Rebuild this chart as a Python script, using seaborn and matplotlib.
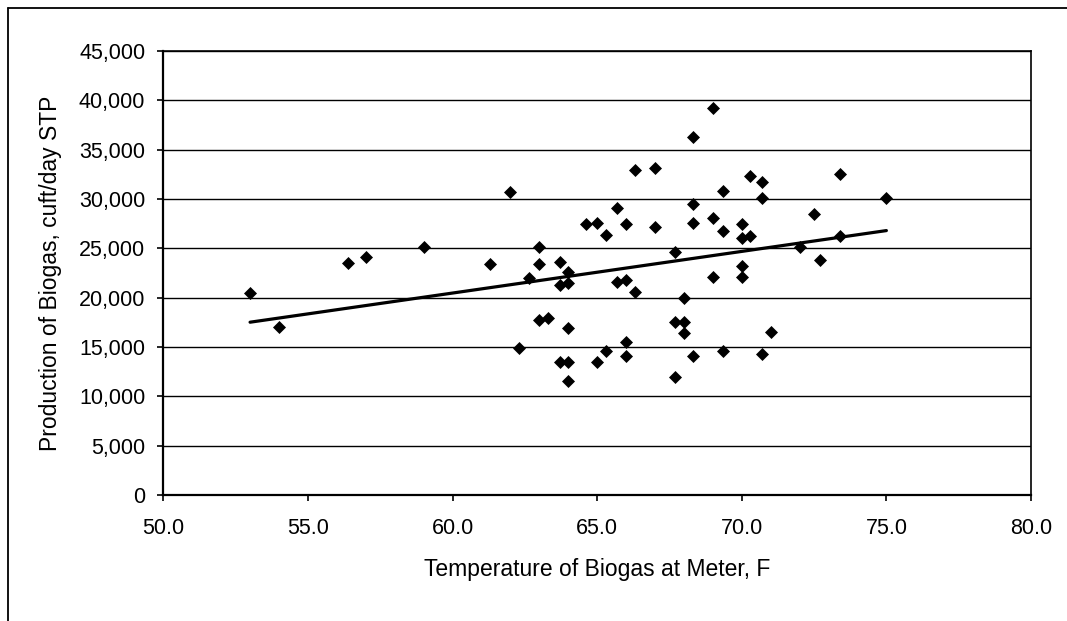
import numpy as np
import pandas as pd
import matplotlib
matplotlib.use("Agg")
import matplotlib.pyplot as plt
from matplotlib.ticker import FuncFormatter
from matplotlib.lines import Line2D
import seaborn as sns

# Data
temperature_f = [
    53.0, 54.0, 56.4, 57.0, 59.0,
    61.3, 62.0, 62.3, 62.65, 63.0, 63.0, 63.0, 63.3, 63.7, 63.7, 63.7,
    64.0, 64.0, 64.0, 64.0, 64.0, 64.6, 65.0, 65.0, 65.3, 65.3, 65.7, 65.7,
    66.0, 66.0, 66.0, 66.0, 66.3, 66.3, 67.0, 67.0,
    67.7, 67.7, 67.7, 68.0, 68.0, 68.0,
    68.3, 68.3, 68.3, 68.3, 69.0, 69.0, 69.0, 69.35, 69.35, 69.35,
    70.0, 70.0, 70.0, 70.0, 70.3, 70.3, 70.7, 70.7, 70.7, 71.0,
    72.0, 72.5, 72.7, 73.4, 73.4, 75.0,
]
biogas_cuft_day = [
    20500, 17050, 23550, 24150, 25150,
    23380, 30680, 14870, 21960, 25170, 23380, 17740, 17900, 23580, 21290, 13450,
    22570, 21520, 16900, 13450, 11590, 27470, 27600, 13450, 26350, 14630, 29060, 21560,
    27470, 21790, 15540, 14090, 32940, 20550, 33110, 27200,
    24600, 17570, 12000, 17570, 16390, 19940,
    36310, 29460, 27600, 14090, 39190, 28040, 22130, 30840, 26790, 14630,
    27470, 26020, 23210, 22130, 32330, 26200, 31690, 30070, 14260, 16490,
    25170, 28480, 23820, 32500, 26250, 30070,
]

x_ticks = [50.0, 55.0, 60.0, 65.0, 70.0, 75.0, 80.0]
y_ticks = list(range(0, 45001, 5000))

x_title = "Temperature of Biogas at Meter, F"
y_title = "Production of Biogas, cuft/day STP"

df = pd.DataFrame({"temp": temperature_f, "gas": biogas_cuft_day})

sns.set_style("white")
plt.rcParams["font.family"] = ["Liberation Sans", "DejaVu Sans"]

W, H = 1067, 621
fig = plt.figure(figsize=(W / 100, H / 100), dpi=100)
ax = fig.add_axes([163.3 / W, 1 - 495 / H, (1031 - 163.3) / W, (495 - 51) / H])

ax.yaxis.grid(True, color="black", linewidth=1.0, zorder=0)
ax.set_axisbelow(True)

sns.regplot(
    data=df, x="temp", y="gas", ax=ax, ci=None, truncate=True,
    marker="D",
    scatter_kws={"s": 44, "color": "black", "linewidths": 0, "zorder": 3, "alpha": 1},
    line_kws={"color": "black", "linewidth": 2.3, "zorder": 4},
)

ax.set_xlim(50, 80)
ax.set_ylim(0, 45000)
ax.set_xticks(x_ticks)
ax.set_yticks(y_ticks)
ax.xaxis.set_major_formatter(FuncFormatter(lambda v, p: f"{v:.1f}"))
ax.yaxis.set_major_formatter(FuncFormatter(lambda v, p: f"{int(v):,}"))

for side in ["left", "bottom", "top", "right"]:
    ax.spines[side].set_visible(True)
    ax.spines[side].set_color("black")
    ax.spines[side].set_linewidth(1.2)
ax.spines["left"].set_linewidth(1.6)
ax.spines["bottom"].set_linewidth(1.6)

ax.tick_params(axis="both", which="major", direction="out", length=4.5, width=1.2,
               color="black", labelsize=15.5, labelcolor="black")
ax.tick_params(axis="y", pad=8.5, left=True)
ax.tick_params(axis="x", pad=12, bottom=True)

ax.set_xlabel(x_title, fontsize=16.5, labelpad=14, color="black")
ax.set_ylabel(y_title, fontsize=16.5, labelpad=12, color="black")

# outer chart border (only left and top edges fall inside the canvas)
for xs, ys in [([8, 8], [H + 5, 8]), ([8, W + 5], [8, 8])]:
    fig.add_artist(Line2D([x / W for x in xs], [1 - y / H for y in ys],
                          color="black", linewidth=1.3, transform=fig.transFigure))

fig.savefig("out.png", dpi=100)
